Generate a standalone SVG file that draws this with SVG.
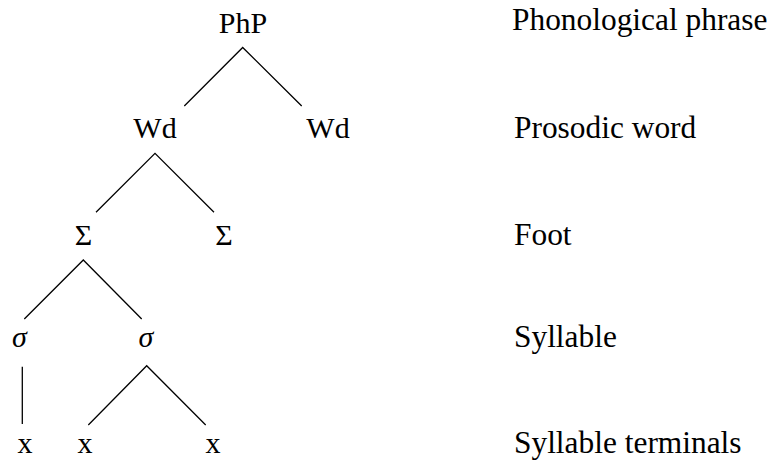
<svg xmlns="http://www.w3.org/2000/svg" width="776" height="462" viewBox="0 0 776 462">
  <style>
    .n { font-size: 30px; fill: #000; text-anchor: middle; }
    .it { font-style: italic; }
    .lvl { font-size: 31.4px; fill: #000; }
    .edge { stroke: #000; stroke-width: 1.3; fill: none; }
  </style>
  <rect width="776" height="462" fill="#fff"/>

  <!-- tree edges -->
  <g id="connectors">
    <polyline class="edge" points="184.3,106 242.7,47.5 301.7,106"/>
    <polyline class="edge" points="96,212.3 155,153.3 214,212.3"/>
    <polyline class="edge" points="24.3,319 83.3,260 141.7,319"/>
    <line class="edge" x1="22.3" y1="366.7" x2="22.3" y2="424"/>
    <polyline class="edge" points="88.3,425 146.7,365.7 205.7,425"/>
  </g>

  <!-- tree nodes -->
  <g font-family="Liberation Serif" font-size="30">
    <g id="php"><text class="n" x="243" y="33">PhP</text></g>
    <g id="wd1"><text class="n" x="155" y="138">Wd</text></g>
    <g id="wd2"><text class="n" x="328" y="138">Wd</text></g>
    <g id="foot1"><text class="n" x="83.5" y="245">Σ</text></g>
    <g id="foot2"><text class="n" x="224" y="245">Σ</text></g>
    <g id="syl1"><text class="n it" x="19.5" y="346.5">σ</text></g>
    <g id="syl2"><text class="n it" x="146" y="346.5">σ</text></g>
    <g id="x1"><text class="n" x="25" y="452.5">x</text></g>
    <g id="x2"><text class="n" x="85" y="452.5">x</text></g>
    <g id="x3"><text class="n" x="213" y="452.5">x</text></g>
  </g>

  <!-- level names -->
  <g id="levels" font-family="Liberation Serif">
    <text class="lvl" x="512" y="29.5">Phonological phrase</text>
    <text class="lvl" x="514" y="138">Prosodic word</text>
    <text class="lvl" x="514" y="245">Foot</text>
    <text class="lvl" x="514" y="346.5">Syllable</text>
    <text class="lvl" x="514" y="453">Syllable terminals</text>
  </g>
</svg>
